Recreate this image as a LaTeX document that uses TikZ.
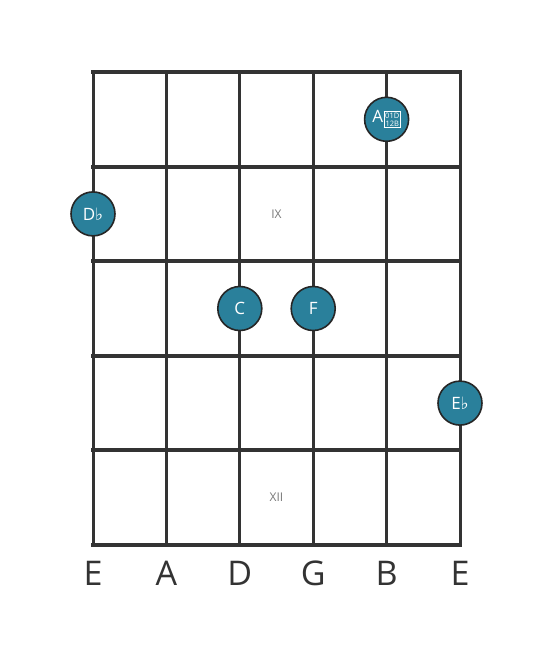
\documentclass[tikz,border=0pt]{standalone}
\usepackage{fontspec}
\setmainfont{Open Sans}
\newfontfamily\symfont{DejaVu Sans}
\definecolor{dotfill}{RGB}{42,128,155}
\definecolor{linec}{RGB}{51,51,51}
\definecolor{romc}{RGB}{120,120,120}
\newcommand{\flatsym}{{\symfont\fontsize{17}{17}\selectfont ♭}}
\begin{document}
\begin{tikzpicture}[x=1pt,y=-1pt,
  fret/.style={draw=linec,line width=4pt},
  strg/.style={draw=linec,line width=3pt},
  notedot/.style={circle,draw=black!85,line width=1.6pt,fill=dotfill,minimum size=44pt,inner sep=0pt,text=white,font=\fontsize{17}{17}\selectfont},
  roman/.style={text=romc,font=\fontsize{12}{12}\selectfont},
  strname/.style={text=linec,font=\fontsize{34}{34}\selectfont}]
\useasboundingbox (0,0) rectangle (553,656);
% strings
\foreach \x [count=\i] in {93,166.4,239.8,313.2,386.6,460}{
  \coordinate (s\i t) at (\x,72);
  \coordinate (s\i b) at (\x,545);
  \draw[strg] (s\i t) -- (s\i b);
}
% frets
\foreach \y [count=\j] in {72,166.6,261.2,355.8,450.4,545}{
  \coordinate (f\j l) at (91,\y);
  \coordinate (f\j r) at (462,\y);
  \draw[fret] (f\j l) -- (f\j r);
}
% position markers
\node[roman] (ix) at (276.5,214) {IX};
\node[roman] (xii) at (276.5,497.5) {XII};
% notes
\node[notedot] (ab) at (386.6,119.3) {A\hspace{0.5pt}\raisebox{-1pt}{\fboxsep=1pt\fboxrule=0.6pt\fbox{\parbox[c]{14pt}{\centering\fontsize{7.5}{7.5}\selectfont 01D\\[0.5pt]12B}}}};
\node[notedot] (db) at (93,213.9) {D\flatsym};
\node[notedot] (c) at (239.8,308.5) {C};
\node[notedot] (f) at (313.2,308.5) {F};
\node[notedot] (eb) at (460,403.1) {E\flatsym};
% string names
\foreach \x/\n [count=\i] in {93/E,166.4/A,239.8/D,313.2/G,386.6/B,460/E}{
  \node[strname] (n\i) at (\x,573) {\n};
}
\end{tikzpicture}
\end{document}
